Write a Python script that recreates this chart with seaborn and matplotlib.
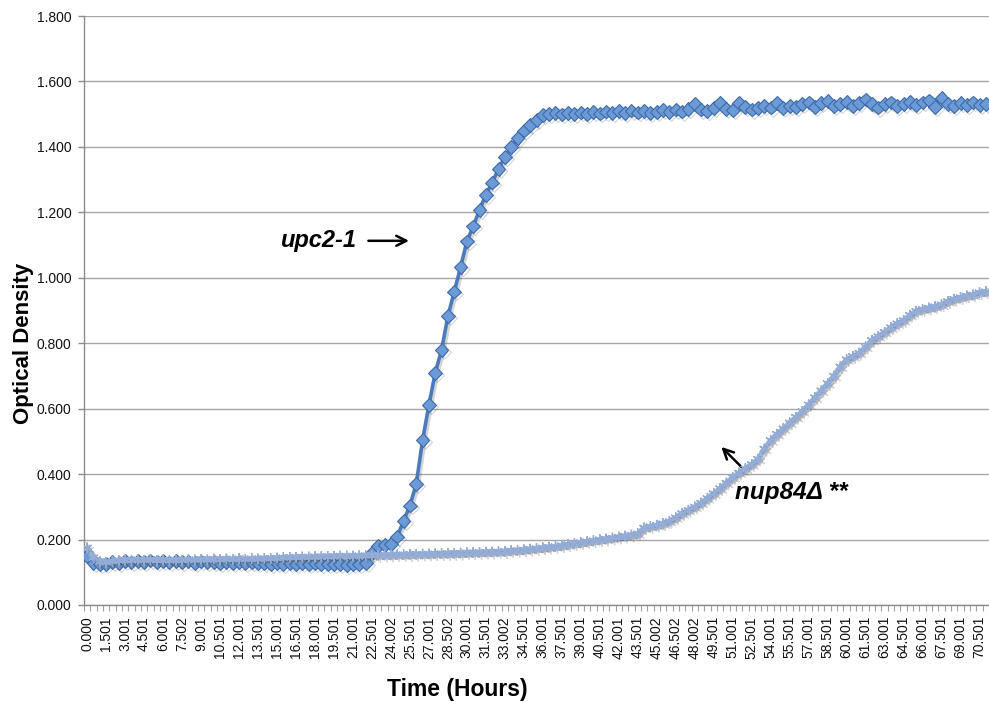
import numpy as np
import pandas as pd
import matplotlib
matplotlib.use("Agg")
import matplotlib.pyplot as plt
import matplotlib.patheffects as pe
import seaborn as sns

# Sampling times (hours), one reading every half hour
times = [
    "0.000", "0.500", "1.001", "1.501", "2.001", "2.501", "3.001", "3.501", "4.001", "4.501",
    "5.001", "5.501", "6.001", "6.501", "7.001", "7.502", "8.001", "8.501", "9.001", "9.501",
    "10.001", "10.501", "11.001", "11.501", "12.001", "12.501", "13.001", "13.501", "14.001", "14.501",
    "15.001", "15.501", "16.001", "16.501", "17.001", "17.501", "18.001", "18.501", "19.001", "19.501",
    "20.001", "20.501", "21.001", "21.501", "22.001", "22.501", "23.001", "23.501", "24.002", "24.501",
    "25.001", "25.501", "26.001", "26.501", "27.001", "27.501", "28.001", "28.502", "29.001", "29.501",
    "30.001", "30.501", "31.001", "31.501", "32.001", "32.501", "33.002", "33.501", "34.001", "34.501",
    "35.001", "35.501", "36.001", "36.501", "37.001", "37.501", "38.001", "38.501", "39.001", "39.501",
    "40.001", "40.501", "41.001", "41.501", "42.001", "42.501", "43.001", "43.501", "44.001", "44.501",
    "45.002", "45.501", "46.001", "46.502", "47.001", "47.501", "48.002", "48.501", "49.001", "49.501",
    "50.001", "50.501", "51.001", "51.501", "52.001", "52.501", "53.001", "53.501", "54.001", "54.501",
    "55.001", "55.501", "56.001", "56.501", "57.001", "57.501", "58.001", "58.501", "59.001", "59.501",
    "60.001", "60.501", "61.001", "61.501", "62.001", "62.501", "63.001", "63.501", "64.001", "64.501",
    "65.001", "65.501", "66.001", "66.501", "67.001", "67.501", "68.001", "68.501", "69.001", "69.501",
    "70.001", "70.501", "71.001",
]

# Optical density of the upc2-1 culture
od_upc2 = [
    0.150, 0.128, 0.124, 0.126, 0.131, 0.129, 0.134, 0.130, 0.135, 0.131,
    0.136, 0.132, 0.135, 0.130, 0.134, 0.131, 0.133, 0.129, 0.133, 0.130,
    0.132, 0.128, 0.131, 0.128, 0.131, 0.127, 0.130, 0.127, 0.129, 0.126,
    0.129, 0.126, 0.128, 0.125, 0.128, 0.124, 0.127, 0.124, 0.126, 0.124,
    0.126, 0.123, 0.125, 0.124, 0.128, 0.160, 0.180, 0.183, 0.186, 0.209,
    0.257, 0.304, 0.370, 0.504, 0.611, 0.710, 0.779, 0.883, 0.958, 1.032,
    1.111, 1.157, 1.208, 1.254, 1.291, 1.333, 1.369, 1.400, 1.427, 1.450,
    1.468, 1.483, 1.498, 1.500, 1.503, 1.499, 1.504, 1.500, 1.505, 1.501,
    1.507, 1.502, 1.508, 1.503, 1.509, 1.504, 1.511, 1.505, 1.510, 1.503,
    1.507, 1.512, 1.506, 1.514, 1.508, 1.516, 1.530, 1.514, 1.510, 1.518,
    1.534, 1.516, 1.513, 1.534, 1.522, 1.514, 1.519, 1.526, 1.520, 1.535,
    1.518, 1.524, 1.521, 1.530, 1.536, 1.522, 1.533, 1.540, 1.524, 1.532,
    1.538, 1.525, 1.534, 1.545, 1.532, 1.520, 1.530, 1.536, 1.524, 1.532,
    1.538, 1.528, 1.536, 1.542, 1.522, 1.550, 1.530, 1.526, 1.535, 1.529,
    1.536, 1.528, 1.531,
]

# Optical density of the nup84Δ culture
od_nup84 = [
    0.175, 0.145, 0.133, 0.130, 0.134, 0.136, 0.138, 0.136, 0.139, 0.137,
    0.139, 0.137, 0.138, 0.136, 0.138, 0.137, 0.139, 0.138, 0.140, 0.138,
    0.141, 0.139, 0.141, 0.140, 0.142, 0.140, 0.142, 0.141, 0.143, 0.142,
    0.144, 0.145, 0.146, 0.146, 0.147, 0.147, 0.148, 0.148, 0.149, 0.149,
    0.150, 0.150, 0.150, 0.151, 0.151, 0.152, 0.152, 0.153, 0.153, 0.154,
    0.154, 0.155, 0.155, 0.156, 0.156, 0.157, 0.157, 0.158, 0.158, 0.159,
    0.160, 0.160, 0.161, 0.162, 0.162, 0.163, 0.164, 0.166, 0.167, 0.169,
    0.171, 0.173, 0.175, 0.177, 0.179, 0.182, 0.185, 0.188, 0.191, 0.194,
    0.197, 0.200, 0.202, 0.205, 0.208, 0.211, 0.214, 0.218, 0.236, 0.240,
    0.244, 0.249, 0.256, 0.267, 0.280, 0.290, 0.300, 0.312, 0.326, 0.341,
    0.356, 0.373, 0.390, 0.404, 0.417, 0.430, 0.446, 0.477, 0.503, 0.522,
    0.539, 0.557, 0.574, 0.592, 0.612, 0.634, 0.655, 0.677, 0.700, 0.728,
    0.750, 0.760, 0.770, 0.789, 0.809, 0.821, 0.834, 0.848, 0.860, 0.870,
    0.886, 0.898, 0.904, 0.908, 0.912, 0.918, 0.928, 0.935, 0.940, 0.945,
    0.948, 0.955, 0.958,
]

y_ticks = [0.0, 0.2, 0.4, 0.6, 0.8, 1.0, 1.2, 1.4, 1.6, 1.8]

sns.set_theme(style="white")
plt.rcParams["font.family"] = ["Liberation Sans", "DejaVu Sans"]
plt.rcParams["text.color"] = "black"
plt.rcParams["axes.labelcolor"] = "black"

df_upc2 = pd.DataFrame({"Time": times, "OD": od_upc2})
df_nup84 = pd.DataFrame({"Time": times, "OD": od_nup84})

fig = plt.figure(figsize=(9.89, 7.02), dpi=100)
ax = fig.add_axes([84 / 989, 1 - 605 / 702, 1 - 84 / 989, (605 - 16) / 702])

shadow = [pe.SimpleLineShadow(offset=(1.5, -1.5), alpha=0.25, shadow_color="#555555"), pe.Normal()]

sns.lineplot(data=df_upc2, x="Time", y="OD", ax=ax, sort=False, legend=False,
             color="#4a7bbd", linewidth=2.6, marker="D", markersize=7,
             markerfacecolor="#6b9ad6", markeredgecolor="#3d6ba8", markeredgewidth=0.8,
             path_effects=shadow, zorder=3)
sns.lineplot(data=df_nup84, x="Time", y="OD", ax=ax, sort=False, legend=False,
             color="#9bb4dc", linewidth=3.8, marker=(6, 2, 0), markersize=7.5,
             markeredgecolor="#93add8", markeredgewidth=1.0,
             path_effects=shadow, zorder=4)

n = len(times)
ax.set_xlim(-0.5, n - 0.5)
ax.set_ylim(0, 1.8)

ax.set_yticks(y_ticks)
ax.set_yticklabels([f"{v:.3f}" for v in y_ticks])
major_pos = list(range(0, n, 3))
ax.set_xticks(major_pos)
ax.set_xticklabels([times[i] for i in major_pos], rotation=90)
ax.set_xticks(np.arange(-0.5, n, 1.0), minor=True)

ax.tick_params(axis="y", which="major", length=4, width=1, color="#8c8c8c",
               labelcolor="#111111", direction="out", pad=5, labelsize=10, left=True)
ax.tick_params(axis="x", which="major", length=0, pad=8, labelsize=10,
               labelcolor="#111111")
ax.tick_params(axis="x", which="minor", length=4, width=0.8, color="#a0a0a0",
               direction="out", bottom=True)

ax.grid(axis="y", color="#a6a6a6", linewidth=1.0)
ax.grid(axis="x", visible=False)
ax.set_axisbelow(True)
for side in ("top", "right"):
    ax.spines[side].set_visible(False)
for side in ("left", "bottom"):
    ax.spines[side].set_color("#8c8c8c")
    ax.spines[side].set_linewidth(1.0)

ax.set_xlabel("Time (Hours)", fontsize=16.5, fontweight="bold", color="black")
ax.set_ylabel("Optical Density", fontsize=16, fontweight="bold", color="black")
ax.xaxis.set_label_coords(0.413, -0.124)
ax.yaxis.set_label_coords(-0.055, 0.445)

ax.text(30.4, 1.113, "upc2-1", fontsize=17, fontweight="bold", fontstyle="italic",
        ha="left", va="center", color="black")
ax.annotate("", xy=(51.3, 1.113), xytext=(44.0, 1.113),
            arrowprops=dict(arrowstyle="->", color="black", lw=1.8, mutation_scale=18))
ax.text(102.3, 0.345, "nup84Δ **", fontsize=17.5, fontweight="bold", fontstyle="italic",
        ha="left", va="center", color="black")
ax.annotate("", xy=(99.9, 0.489), xytext=(103.9, 0.412),
            arrowprops=dict(arrowstyle="->", color="black", lw=1.8, mutation_scale=18))

fig.savefig("out.png", dpi=100)
